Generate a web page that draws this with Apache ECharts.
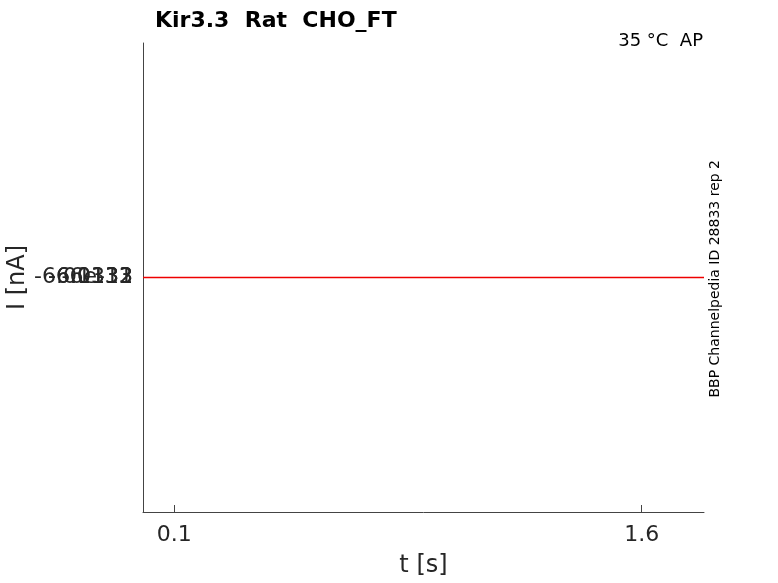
<!DOCTYPE html>
<html><head><meta charset="utf-8">
<script src="https://cdn.jsdelivr.net/npm/echarts@6/dist/echarts.min.js"></script>
<style>html,body{margin:0;padding:0;background:#fff}#c{width:778px;height:583px}</style>
</head><body><div id="c"></div>
<script>
const timeS = [0, 0.3, 0.6, 0.9, 1.2, 1.5, 1.8];
const currentNA = [-6.0132, -6.0132, -6.0132, -6.0132, -6.0132, -6.0132, -6.0132];
const xTicks = [0.1, 1.6];
const yTickLabels = ['-6.01332', '-6.0133', '-6e-13', '-6.0131'];
const titleText = 'Kir3.3  Rat  CHO_FT';
const condText = '35 °C  AP';
const sideText = 'BBP Channelpedia ID 28833 rep 2';

const yCenter = currentNA[0];
const yHalf = 1;
const font = 'DejaVu Sans';
const chart = echarts.init(document.getElementById('c'));
const labelAxes = yTickLabels.map((lab, i) => ({
  type: 'value', min: yCenter - yHalf, max: yCenter + yHalf,
  position: 'left', show: true,
  axisLine: {show: false}, axisTick: {show: false}, splitLine: {show: false},
  axisLabel: {
    fontFamily: font, fontSize: 22, color: '#262626', margin: 10,
    customValues: [yCenter], formatter: () => lab
  }
}));
chart.setOption({
  animation: false,
  backgroundColor: '#fff',
  grid: {left: 143, right: 74, top: 43, bottom: 71, outerBoundsMode: 'none', containLabel: false},
  title: [
    {text: titleText, left: 150, top: 5, textStyle: {fontFamily: font, fontSize: 22, fontWeight: 'bold', color: '#000'}},
    {text: condText, right: 70, top: 27, textStyle: {fontFamily: font, fontSize: 18, fontWeight: 'normal', color: '#000'}}
  ],
  graphic: [{
    type: 'text', left: 708, top: 160, rotation: Math.PI / 2,
    style: {text: sideText, fontFamily: font, fontSize: 14, fill: '#000'}
  }],
  xAxis: {
    type: 'value', min: 0, max: 1.8,
    name: 't [s]', nameLocation: 'middle', nameGap: 42,
    nameTextStyle: {fontFamily: font, fontSize: 24, color: '#262626'},
    axisLine: {onZero: false, lineStyle: {color: '#444', width: 1}},
    axisTick: {inside: true, length: 7, lineStyle: {color: '#444'}, customValues: xTicks},
    axisLabel: {fontFamily: font, fontSize: 22, color: '#262626', margin: 12, customValues: xTicks},
    splitLine: {show: false}
  },
  yAxis: [{
    type: 'value', min: yCenter - yHalf, max: yCenter + yHalf,
    name: 'I [nA]', nameLocation: 'middle', nameGap: 113, nameRotate: 90,
    nameTextStyle: {fontFamily: font, fontSize: 24, color: '#262626'},
    axisLine: {show: true, onZero: false, lineStyle: {color: '#444', width: 1}},
    axisTick: {show: true, inside: true, length: 7, lineStyle: {color: '#444'}, customValues: [yCenter]},
    splitLine: {show: false},
    axisLabel: {show: false}
  }].concat(labelAxes),
  series: [{
    type: 'line', yAxisIndex: 0,
    data: timeS.map((t, i) => [t, currentNA[i]]),
    showSymbol: false, lineStyle: {color: '#ee0000', width: 1.5}
  }]
});
</script></body></html>
